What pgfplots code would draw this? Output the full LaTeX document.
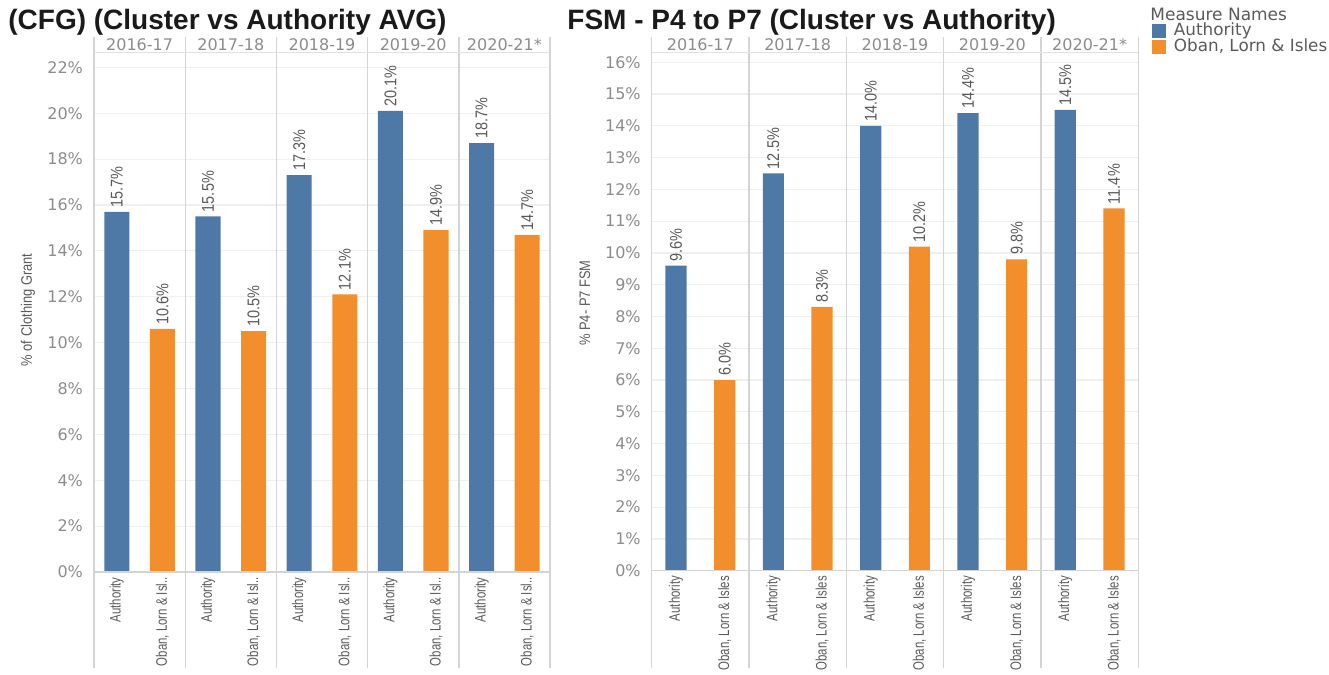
\documentclass[border=0pt]{standalone}
\usepackage{fontspec}
\setmainfont{Liberation Sans}
\newfontfamily\dejavu{DejaVu Sans}
\newfontfamily\condfont[FakeStretch=0.85]{Liberation Sans}
\newfontfamily\narrowfont[FakeStretch=0.75]{Liberation Sans}
\usepackage{pgfplots}
\pgfplotsset{compat=1.18}
\definecolor{tabblue}{HTML}{4E79A7}
\definecolor{taborange}{HTML}{F28E2B}
\definecolor{ticktext}{HTML}{8C8C8C}
\definecolor{sepline}{HTML}{D4D4D4}
\definecolor{gridc}{HTML}{EFEFEF}
\definecolor{labeltext}{HTML}{5A5A5A}
\definecolor{titletext}{HTML}{1A1A1A}

\tikzset{hdr/.style={font=\dejavu\fontsize{8}{9}\selectfont, text=ticktext}}
\pgfplotsset{
 tabbar/.style={
  scale only axis, clip=false,
  ybar, bar shift=0pt,
  xmin=0, xmax=10, ymin=0,
  axis line style={draw=none},
  major tick length=0pt,
  ymajorgrids, grid style={gridc, line width=0.6pt},
  xtick={0.5,1.5,2.5,3.5,4.5,5.5,6.5,7.5,8.5,9.5},
  x tick label style={rotate=90, anchor=east, font=\narrowfont\fontsize{7.6}{8}\selectfont, text=labeltext, inner sep=2.5pt},
  y tick label style={font=\dejavu\fontsize{8}{9}\selectfont, text=ticktext, xshift=-2pt},
  /pgf/number format/assume math mode=true,
  yticklabel={\pgfmathprintnumber{\tick}\%},
  nodes near coords={\pgfmathprintnumber[fixed,fixed zerofill,precision=1]{\pgfplotspointmeta}\%},
  every node near coord/.append style={rotate=90, anchor=west, font=\condfont\fontsize{8.5}{9}\selectfont, text=labeltext, inner sep=2pt},
 },
}

\begin{document}
\begin{tikzpicture}
\useasboundingbox (0,0) rectangle (664.5pt,-337.5pt);

% titles
\node[anchor=base west, font=\bfseries\fontsize{14}{16}\selectfont, text=titletext, inner sep=0pt] at (4pt,-14.5pt) {(CFG) (Cluster vs Authority AVG)};
\node[anchor=base west, font=\bfseries\fontsize{14}{16}\selectfont, text=titletext, inner sep=0pt] at (283.5pt,-14.5pt) {FSM - P4 to P7 (Cluster vs Authority)};

% y labels
\node[rotate=90, font=\condfont\fontsize{7.6}{8}\selectfont, text=labeltext] at (14pt,-155pt) {\% of Clothing Grant};
\node[rotate=90, font=\condfont\fontsize{7.6}{8}\selectfont, text=labeltext] at (292.5pt,-151.5pt) {\% P4- P7 FSM};

% legend title
\node[anchor=west, font=\dejavu\fontsize{8.5}{10}\selectfont, text=labeltext, inner sep=0pt] at (575pt,-7pt) {Measure Names};

% ---------- left panel ----------
\begin{axis}[tabbar,
  at={(47pt,-286pt)}, anchor=south west,
  width=228pt, height=259.65pt,
  ymax=22.64,
  ytick={0,2,4,6,8,10,12,14,16,18,20,22},
  bar width=0.55,
  xticklabels={Authority,{Oban, Lorn \& Isl..},Authority,{Oban, Lorn \& Isl..},Authority,{Oban, Lorn \& Isl..},Authority,{Oban, Lorn \& Isl..},Authority,{Oban, Lorn \& Isl..}},
]
\addplot[fill=tabblue, draw=none] coordinates {(0.5,15.7) (2.5,15.5) (4.5,17.3) (6.5,20.1) (8.5,18.7)};
\addplot[fill=taborange, draw=none] coordinates {(1.5,10.6) (3.5,10.5) (5.5,12.1) (7.5,14.9) (9.5,14.7)};
\pgfplotsinvokeforeach{0,2,4,6,8,10}{\draw[sepline, line width=0.7pt] (axis cs:#1,23.32) -- (axis cs:#1,-4.18);}
\draw[sepline, line width=0.7pt] (axis cs:0,0) -- (axis cs:10,0);
\draw[sepline!70, line width=0.6pt] (axis cs:0,22.64) -- (axis cs:10,22.64);
\node[hdr] at (axis cs:1,22.97) {2016-17};
\node[hdr] at (axis cs:3,22.97) {2017-18};
\node[hdr] at (axis cs:5,22.97) {2018-19};
\node[hdr] at (axis cs:7,22.97) {2019-20};
\node[hdr] at (axis cs:9,22.97) {2020-21*};
\end{axis}

% ---------- right panel ----------
\begin{axis}[tabbar,
  at={(325.85pt,-285.35pt)}, anchor=south west,
  width=243.3pt, height=259pt,
  ymax=16.3,
  ytick={0,1,2,3,4,5,6,7,8,9,10,11,12,13,14,15,16},
  bar width=0.435,
  xticklabels={Authority,{Oban, Lorn \& Isles},Authority,{Oban, Lorn \& Isles},Authority,{Oban, Lorn \& Isles},Authority,{Oban, Lorn \& Isles},Authority,{Oban, Lorn \& Isles}},
  legend style={at={(1.028,1.061)}, anchor=north west, draw=none, fill=none,
    font=\dejavu\fontsize{8.4}{9}\selectfont, text=labeltext, inner sep=0pt, row sep=-1.5pt, column sep=3pt,
    nodes={inner sep=0.8pt}, cells={anchor=west}},
  legend cell align=left,
  legend image code/.code={\fill[#1] (0pt,-3.5pt) rectangle (7pt,3.5pt);},
]
\addplot[fill=tabblue, draw=none] coordinates {(0.5,9.6) (2.5,12.5) (4.5,14.0) (6.5,14.4) (8.5,14.5)};
\addlegendentry{Authority}
\addplot[fill=taborange, draw=none] coordinates {(1.5,6.0) (3.5,8.3) (5.5,10.2) (7.5,9.8) (9.5,11.4)};
\addlegendentry{Oban, Lorn \& Isles}
\pgfplotsinvokeforeach{0,2,4,6,8,10}{\draw[sepline, line width=0.7pt] (axis cs:#1,16.80) -- (axis cs:#1,-3.06);}
\draw[sepline, line width=0.7pt] (axis cs:0,0) -- (axis cs:10,0);
\draw[sepline!70, line width=0.6pt] (axis cs:0,16.3) -- (axis cs:10,16.3);
\node[hdr] at (axis cs:1,16.55) {2016-17};
\node[hdr] at (axis cs:3,16.55) {2017-18};
\node[hdr] at (axis cs:5,16.55) {2018-19};
\node[hdr] at (axis cs:7,16.55) {2019-20};
\node[hdr] at (axis cs:9,16.55) {2020-21*};
\end{axis}
\end{tikzpicture}
\end{document}
